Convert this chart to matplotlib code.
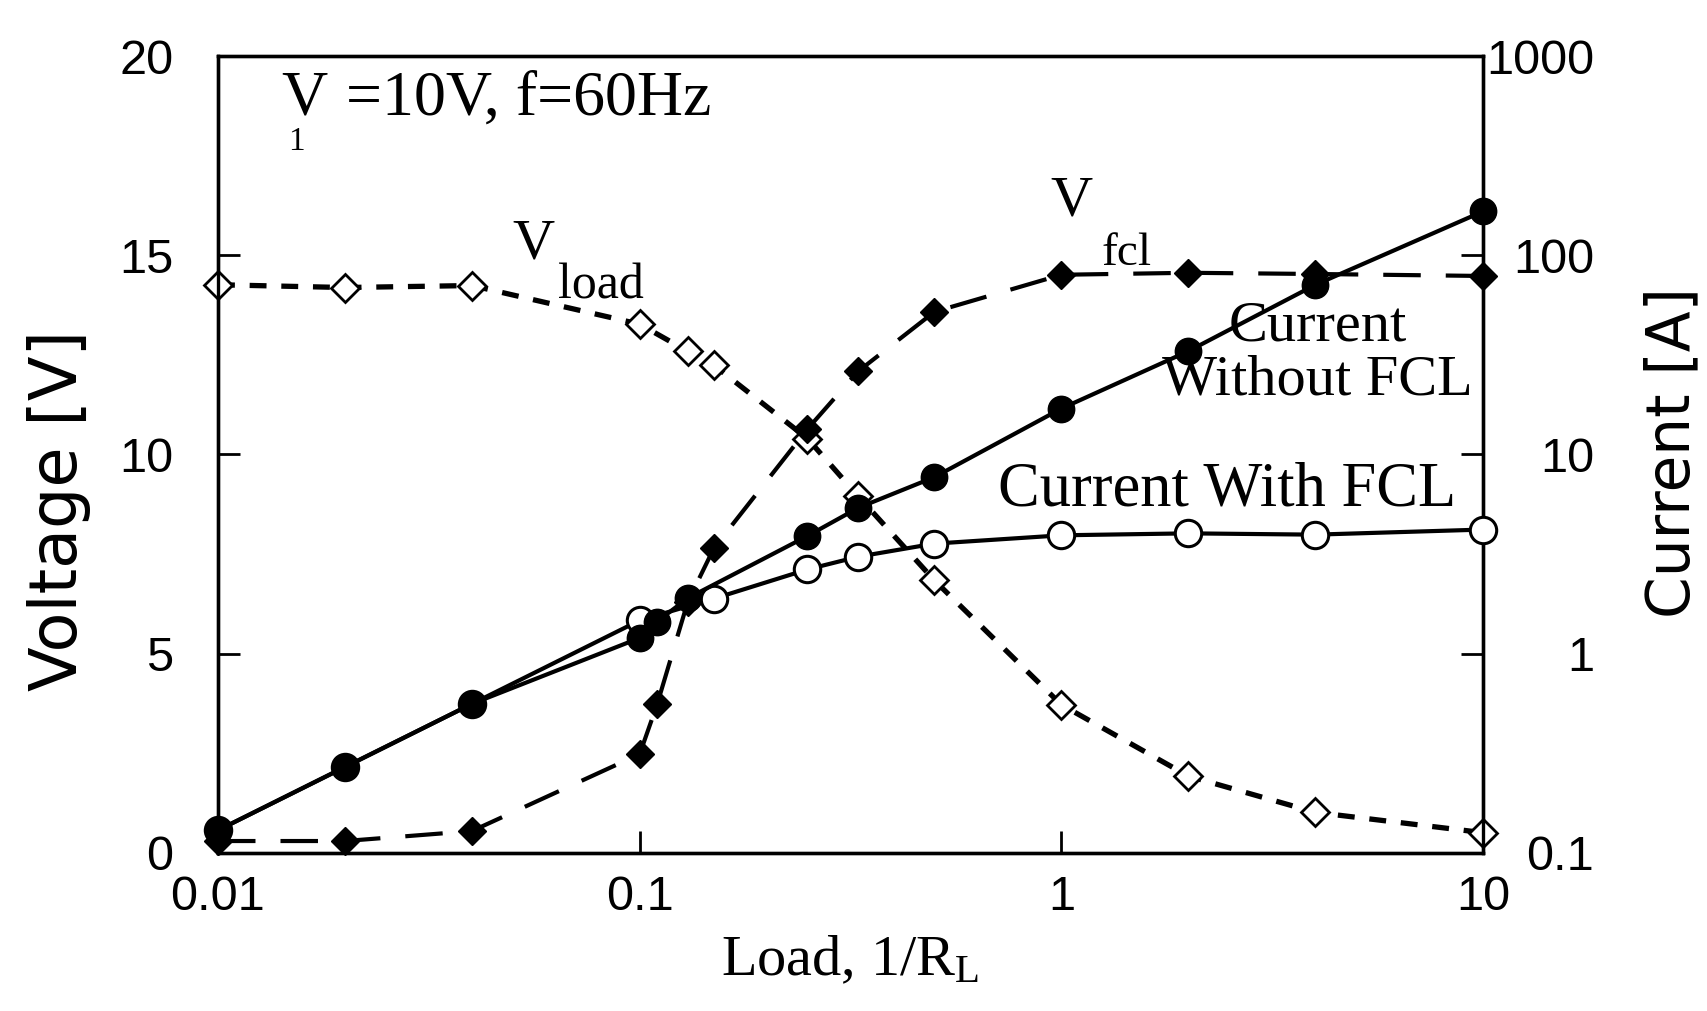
import matplotlib
matplotlib.use("Agg")
import matplotlib.pyplot as plt
from matplotlib.ticker import NullLocator

# ---------------- data ----------------
x_without = [0.01, 0.02, 0.04, 0.1, 0.11, 0.13, 0.25, 0.33, 0.5, 1, 2, 4, 10]
i_without = [0.13, 0.27, 0.56, 1.2, 1.45, 1.9, 3.9, 5.4, 7.7, 17, 33, 71, 166]

x_with = [0.01, 0.02, 0.04, 0.1, 0.15, 0.25, 0.33, 0.5, 1, 2, 4, 10]
i_with = [0.13, 0.27, 0.56, 1.47, 1.89, 2.65, 3.07, 3.57, 3.93, 4.02, 3.96, 4.2]

x_vload = [0.01, 0.02, 0.04, 0.1, 0.13, 0.15, 0.25, 0.33, 0.5, 1, 2, 4, 10]
v_load = [14.26, 14.19, 14.24, 13.27, 12.59, 12.24, 10.4, 8.95, 6.84, 3.72, 1.93, 1.02, 0.51]

x_vfcl = [0.01, 0.02, 0.04, 0.1, 0.11, 0.13, 0.15, 0.25, 0.33, 0.5, 1, 2, 4, 10]
v_fcl = [0.3, 0.3, 0.55, 2.48, 3.73, 6.3, 7.65, 10.64, 12.09, 13.58, 14.51, 14.56, 14.53, 14.48]

x_ticks = [0.01, 0.1, 1, 10]
x_tick_labels = ["0.01", "0.1", "1", "10"]
v_ticks = [0, 5, 10, 15, 20]
v_tick_labels = ["0", "5", "10", "15", "20"]
i_ticks = [0.1, 1, 10, 100, 1000]
i_tick_labels = ["0.1", "1", "10", "100", "1000"]

# ---------------- style ----------------
plt.rcParams['font.family'] = ['Liberation Sans', 'DejaVu Sans']
plt.rcParams['mathtext.fontset'] = 'custom'
plt.rcParams['mathtext.rm'] = 'Liberation Serif'
plt.rcParams['mathtext.it'] = 'Liberation Serif'
SERIF = ['Liberation Serif', 'DejaVu Serif']

fig = plt.figure(figsize=(17.07, 10.11), dpi=100)
ax = fig.add_axes([0.1277, 0.1563, 0.7411, 0.7883])
ax2 = ax.twinx()

ax.set_xscale('log')
ax.set_xlim(0.01, 10)
ax.set_ylim(0, 20)
ax2.set_yscale('log')
ax2.set_ylim(0.1, 1000)

ax.plot(x_vload, v_load, ls=(0, (3.2, 2.8)), color='k', lw=3.8, marker='D', ms=14,
        mfc='white', mec='k', mew=2, clip_on=False, zorder=3)
ax.plot(x_vfcl, v_fcl, ls=(0, (9, 6)), color='k', lw=3.0, marker='D', ms=14,
        mfc='k', mec='k', clip_on=False, zorder=3)
ax2.plot(x_with, i_with, '-', color='k', lw=3.0, marker='o', ms=19,
         mfc='white', mec='k', mew=2.2, clip_on=False, zorder=3)
ax2.plot(x_without, i_without, '-', color='k', lw=3.0, marker='o', ms=19,
         mfc='k', mec='k', clip_on=False, zorder=4)

for a in (ax, ax2):
    for s in a.spines.values():
        s.set_linewidth(2.4)

ax.set_xticks(x_ticks, x_tick_labels)
ax.xaxis.set_minor_locator(NullLocator())
ax.set_yticks(v_ticks, v_tick_labels)
ax2.set_yticks(i_ticks, i_tick_labels)
ax2.yaxis.set_minor_locator(NullLocator())

ax.tick_params(axis='both', direction='in', length=16, width=2, labelsize=35)
ax.tick_params(axis='x', pad=16, top=False)
ax.tick_params(axis='y', pad=32, right=False)
ax2.tick_params(axis='y', direction='in', length=16, width=2, labelsize=35, pad=80)
for lab in ax2.get_yticklabels():
    lab.set_horizontalalignment('right')

ax.set_ylabel("Voltage [V]", fontsize=47, family=['DejaVu Sans'])
ax.yaxis.set_label_coords(-0.100, 0.43)
ax2.set_ylabel("Current [A]", fontsize=43, family=['DejaVu Sans'])
ax2.yaxis.set_label_coords(1.127, 0.503)
ax.set_xlabel(r"Load, 1/R$_\mathregular{L}$", fontsize=42, family=SERIF)
ax.xaxis.set_label_coords(0.5, -0.103)

T = ax2.transAxes
ax2.text(0.050, 0.927, "V", transform=T, fontsize=46, family=SERIF, ha='left', va='baseline')
ax2.text(0.062, 0.893, "1", transform=T, fontsize=24, family=SERIF, ha='center', va='center')
ax2.text(0.101, 0.927, "=10V, f=60Hz", transform=T, fontsize=46, family=SERIF, ha='left', va='baseline')

ax2.text(0.249, 0.763, "V", transform=T, fontsize=42, family=SERIF, ha='center', va='center')
ax2.text(0.303, 0.711, "load", transform=T, fontsize=36, family=SERIF, ha='center', va='center')

ax2.text(0.675, 0.818, "V", transform=T, fontsize=42, family=SERIF, ha='center', va='center')
ax2.text(0.718, 0.752, "fcl", transform=T, fontsize=34, family=SERIF, ha='center', va='center')

ax2.text(0.869, 0.627, "Current\nWithout FCL", transform=T, fontsize=42, family=SERIF,
         ha='center', va='center', multialignment='center', linespacing=1.05)
ax2.text(0.798, 0.455, "Current With FCL", transform=T, fontsize=45, family=SERIF, ha='center', va='center')

fig.savefig("out.png", dpi=100)
